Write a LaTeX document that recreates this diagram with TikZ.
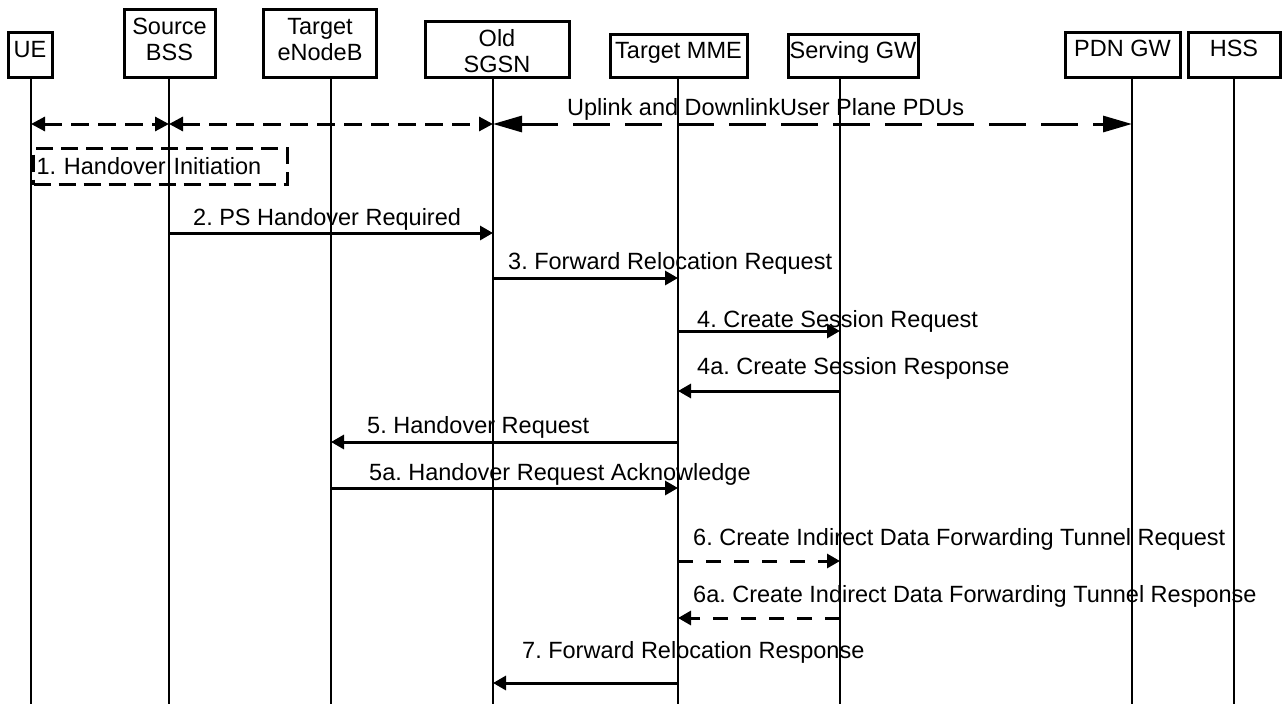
\documentclass[tikz,border=0pt]{standalone}
\usepackage{fontspec}
\setmainfont{Liberation Sans}
\usetikzlibrary{arrows.meta}
\frenchspacing
\begin{document}
\begin{tikzpicture}[x=1pt,y=-1pt,
  every node/.style={font=\frenchspacing\fontsize{23.5}{26}\selectfont},
  actor/.style={draw, line width=3pt, inner sep=0pt, text height=17pt, align=center},
  actortwo/.style={actor, text height=43pt, text depth=9pt},
  life/.style={line width=2.8pt},
  msg/.style={line width=3pt, -{Triangle[length=13pt,width=14pt]}},
  dmsg/.style={msg, dash pattern=on 15pt off 13pt},
  shortd/.style={line width=3pt, dash pattern=on 18pt off 9pt,
    {Triangle[length=14pt,width=14pt]}-{Triangle[length=14pt,width=14pt]}},
  longd/.style={line width=3pt, dash pattern=on 37pt off 15pt,
    {Triangle[length=29pt,width=16pt]}-{Triangle[length=29pt,width=16pt]}},
  lbl/.style={anchor=base west, inner sep=0pt},
  initbox/.style={draw, line width=3pt, dash pattern=on 17pt off 8pt,
    minimum width=254pt, minimum height=36pt, text width=248pt, align=left,
    inner xsep=3pt, inner ysep=0pt, anchor=north west}
]
\useasboundingbox (0,0) rectangle (1282,704);

% actors
\node[actor, minimum width=44pt,  minimum height=45pt, text depth=12pt] (ue)   at (30,54.5)    {UE};
\node[actortwo, minimum width=91pt,  minimum height=68pt] (bss)  at (169.5,43)   {Source\\BSS};
\node[actortwo, minimum width=113pt, minimum height=68pt] (enb)  at (320,43)     {Target\\eNodeB};
\node[actortwo, minimum width=144pt, minimum height=56pt, text height=46pt, text depth=0pt] (sgsn) at (497,49) {Old\\SGSN};
\node[actor, minimum width=137pt, minimum height=43pt, text depth=12pt] (mme)  at (678.5,55.5) {Target MME};
\node[actor, minimum width=130pt, minimum height=43pt, text depth=12pt] (sgw)  at (853,55.5)   {Serving GW};
\node[actor, minimum width=115pt, minimum height=45pt, text depth=14pt] (pgw)  at (1122.5,54.5) {PDN GW};
\node[actor, minimum width=92pt,  minimum height=45pt, text depth=14pt] (hss)  at (1234,54.5)  {HSS};

% lifelines
\foreach \n/\x in {ue/31,bss/169,enb/331,sgsn/493,mme/678,sgw/840,pgw/1132,hss/1234} {
  \coordinate (\n-top) at (\n.south -| \x,0);
  \coordinate (\n-bot) at (\x,704);
  \draw[life] (\n-top) -- (\n-bot);
}

% user plane
\coordinate (r0ue)   at (ue-top   |- 0,124);
\coordinate (r0bss)  at (bss-top  |- 0,124);
\coordinate (r0sgsn) at (sgsn-top |- 0,124);
\coordinate (r0pgw)  at (pgw-top  |- 0,124);
\draw[shortd] (r0ue) -- (r0bss);
\draw[shortd] (r0bss) -- (r0sgsn);
\draw[longd] (r0sgsn) -- (r0pgw);
\node[lbl] (t0) at (567,115) {Uplink and DownlinkUser Plane PDUs};

% 1
\node[initbox] (h1) at (32,147) {1. Handover Initiation};

% 2
\coordinate (m2a) at (bss-top |- 0,233);  \coordinate (m2b) at (sgsn-top |- 0,233);
\draw[msg] (m2a) -- (m2b);
\node[lbl] (t2) at (193,225) {2. PS Handover Required};
% 3
\coordinate (m3a) at (sgsn-top |- 0,278); \coordinate (m3b) at (mme-top |- 0,278);
\draw[msg] (m3a) -- (m3b);
\node[lbl] (t3) at (508,269) {3. Forward Relocation Request};
% 4
\coordinate (m4a) at (mme-top |- 0,331);  \coordinate (m4b) at (sgw-top |- 0,331);
\draw[msg] (m4a) -- (m4b);
\node[lbl] (t4) at (697,327) {4. Create Session Request};
% 4a
\coordinate (m4c) at (sgw-top |- 0,391);  \coordinate (m4d) at (mme-top |- 0,391);
\draw[msg] (m4c) -- (m4d);
\node[lbl] (t4a) at (697,374) {4a. Create Session Response};
% 5
\coordinate (m5a) at (mme-top |- 0,442);  \coordinate (m5b) at (enb-top |- 0,442);
\draw[msg] (m5a) -- (m5b);
\node[lbl] (t5) at (367,433) {5. Handover Request};
% 5a
\coordinate (m5c) at (enb-top |- 0,488);  \coordinate (m5d) at (mme-top |- 0,488);
\draw[msg] (m5c) -- (m5d);
\node[lbl] (t5a) at (369,480) {5a. Handover Request Acknowledge};
% 6
\coordinate (m6a) at (mme-top |- 0,561);  \coordinate (m6b) at (sgw-top |- 0,561);
\draw[dmsg] (m6a) -- (m6b);
\node[lbl] (t6) at (693,545) {6. Create Indirect Data Forwarding Tunnel Request};
% 6a
\coordinate (m6c) at (sgw-top |- 0,618);  \coordinate (m6d) at (mme-top |- 0,618);
\draw[dmsg] (m6c) -- (m6d);
\node[lbl] (t6a) at (693,602) {6a. Create Indirect Data Forwarding Tunnel Response};
% 7
\coordinate (m7a) at (mme-top |- 0,683);  \coordinate (m7b) at (sgsn-top |- 0,683);
\draw[msg] (m7a) -- (m7b);
\node[lbl] (t7) at (522,658) {7. Forward Relocation Response};
\end{tikzpicture}
\end{document}
